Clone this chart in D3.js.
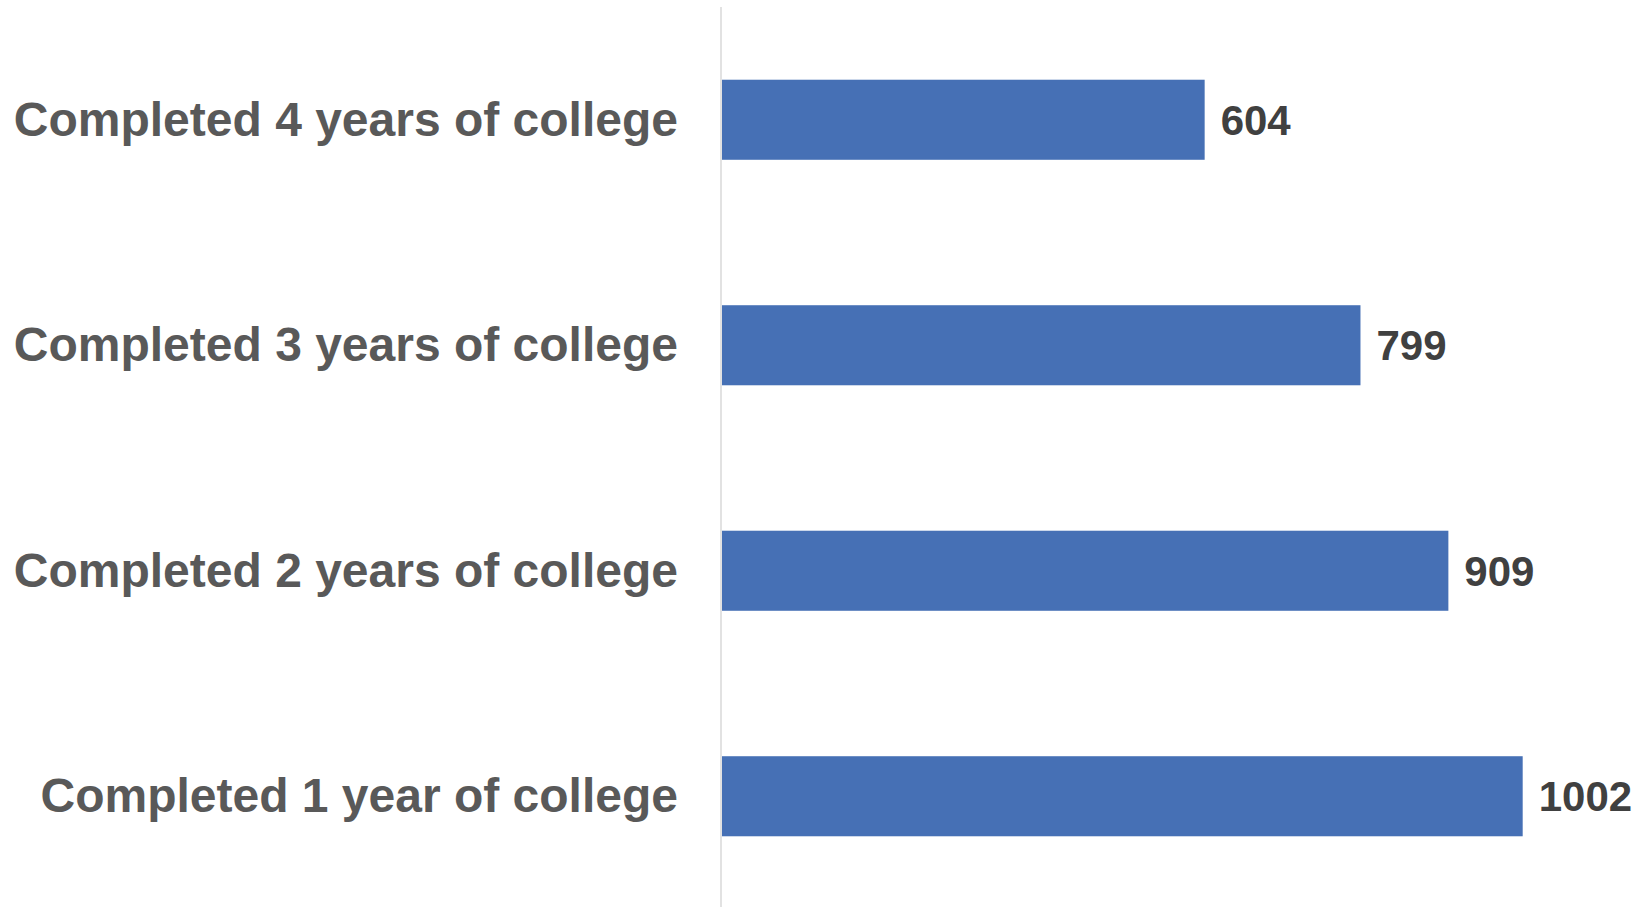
<!DOCTYPE html>
<html>
<head>
<meta charset="utf-8">
<script src="https://cdn.jsdelivr.net/npm/d3@7"></script>
<style>
  html, body { margin: 0; padding: 0; background: #fff; }
  svg { display: block; }
</style>
</head>
<body>
<svg id="chart" width="1641" height="907"></svg>
<script>
// Education level categories, top to bottom
const categories = [
  "Completed 4 years of college",
  "Completed 3 years of college",
  "Completed 2 years of college",
  "Completed 1 year of college"
];
// Counts per category
const values = [604, 799, 909, 1002];

const svg = d3.select("#chart");
const W = 1641, H = 907;
const x0 = 722;

const x = d3.scaleLinear().domain([0, 1100]).range([x0, 1601]);
const y = d3.scaleBand().domain(categories).range([7, 909]).paddingInner(0.645).paddingOuter(0.3225);

const data = categories.map((c, i) => ({ c, v: values[i] }));

// Bars
svg.append("g").selectAll("rect").data(data).join("rect")
  .attr("x", x(0))
  .attr("y", d => y(d.c))
  .attr("width", d => x(d.v) - x(0))
  .attr("height", y.bandwidth())
  .attr("fill", "#4670b5");

// Vertical category axis line
svg.append("line")
  .attr("x1", x0 - 1).attr("x2", x0 - 1)
  .attr("y1", 7).attr("y2", H)
  .attr("stroke", "#d9d9d9").attr("stroke-width", 1.5);

// Category labels
svg.append("g").selectAll("text").data(data).join("text")
  .attr("x", 678)
  .attr("y", d => y(d.c) + y.bandwidth() / 2 + 16)
  .attr("text-anchor", "end")
  .attr("font-family", "Liberation Sans, Arial, sans-serif")
  .attr("font-weight", "bold")
  .attr("font-size", 48)
  .attr("fill", "#595959")
  .text(d => d.c);

// Value labels
svg.append("g").selectAll("text").data(data).join("text")
  .attr("x", d => x(d.v) + 16)
  .attr("y", d => y(d.c) + y.bandwidth() / 2 + 15)
  .attr("font-family", "Liberation Sans, Arial, sans-serif")
  .attr("font-weight", "bold")
  .attr("font-size", 42)
  .attr("fill", "#404040")
  .text(d => d.v);
</script>
</body>
</html>
